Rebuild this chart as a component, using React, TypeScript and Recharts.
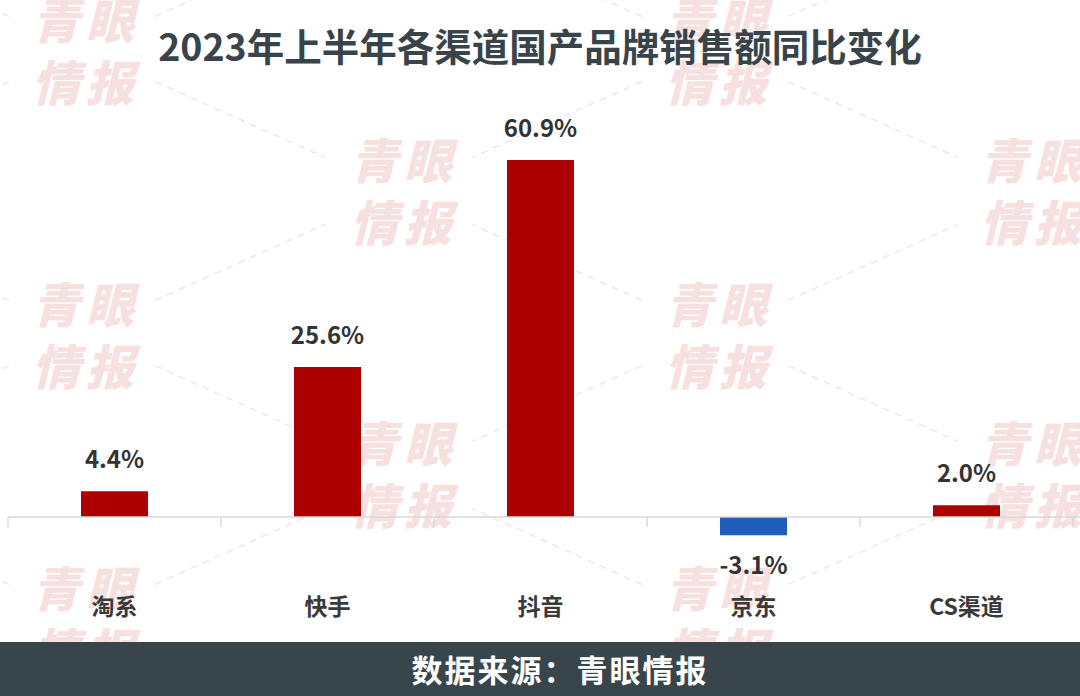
import React from "react";
import { BarChart, Bar, XAxis, YAxis, Cell, LabelList, ReferenceLine } from "recharts";

const categories = ["淘系", "快手", "抖音", "京东", "CS渠道"];
const growth = [4.4, 25.6, 60.9, -3.1, 2.0];
const valueLabels = ["4.4%", "25.6%", "60.9%", "-3.1%", "2.0%"];

const TITLE = "2023年上半年各渠道国产品牌销售额同比变化";
const SOURCE = "数据来源：青眼情报";
const WATERMARK = ["青眼", "情报"];

const data = categories.map((name, i) => ({ name, value: growth[i], label: valueLabels[i] }));

const FONT = '"Noto Sans CJK SC", "Noto Sans", sans-serif';
const RED = "#AD0000";
const BLUE = "#1F5DBA";

// decorative watermark lattice
const wmA = [
  [32, -3], [32, 281], [32, 565],
  [665, -3], [665, 281], [665, 565],
];
const wmB = [
  [350, 137], [350, 420],
  [980, 137], [980, 420],
  [-283, 137], [-283, 420],
];

const Watermarks = () => {
  const all = [...wmA, ...wmB];
  const lines: any[] = [];
  wmA.forEach(([x, y]) => {
    const cx = x + 50, cy = y + 52;
    [[316, 141], [316, -141], [-316, 141], [-316, -141]].forEach(([dx, dy]) => {
      const len = Math.sqrt(dx * dx + dy * dy);
      const ux = dx / len, uy = dy / len;
      const m = 80;
      lines.push([cx + ux * m, cy + uy * m, cx + dx - ux * m, cy + dy - uy * m]);
    });
  });
  return (
    <svg width={1080} height={696} style={{ position: "absolute", left: 0, top: 0 }}>
      {lines.map((l, i) => (
        <line key={"l" + i} x1={l[0]} y1={l[1]} x2={l[2]} y2={l[3]} stroke="#e9e9e9" strokeWidth={1.5} strokeDasharray="7 6" />
      ))}
      {all.map(([x, y], i) => (
        <g key={"w" + i} fill="#f7e0e0" fontFamily={FONT} fontWeight={900} fontStyle="italic" fontSize={48}>
          <text x={x} y={y + 42} letterSpacing={6}>{WATERMARK[0]}</text>
          <text x={x} y={y + 104} letterSpacing={6}>{WATERMARK[1]}</text>
        </g>
      ))}
    </svg>
  );
};

const ZeroAxis = (p: any) => {
  const { x1, y1, x2 } = p;
  const n = categories.length;
  const step = (x2 - x1) / n;
  const ticks = Array.from({ length: n + 1 }, (_, i) => x1 + i * step);
  return (
    <g>
      <line x1={x1} y1={y1} x2={1080} y2={y1} stroke="#d9d9d9" strokeWidth={1.5} />
      {ticks.map((t, i) => (
        <line key={i} x1={t} y1={y1} x2={t} y2={y1 + 10} stroke="#d9d9d9" strokeWidth={1.5} />
      ))}
    </g>
  );
};

const ValueLabel = (props: any) => {
  const vb = props.viewBox || props;
  const x = vb.x, y = vb.y, w = vb.width, h = vb.height;
  const idx = props.index;
  const v = growth[idx];
  const top = Math.min(y, y + h);
  const bottom = Math.max(y, y + h);
  const cx = x + w / 2;
  const ty = v >= 0 ? top - 23 : bottom + 39;
  return (
    <text x={cx} y={ty} textAnchor="middle" fill="#333333" fontFamily={FONT} fontWeight={700} fontSize={24}>
      {valueLabels[idx]}
    </text>
  );
};

const CatTick = (props: any) => {
  const { x, y, payload } = props;
  return (
    <text x={x} y={y + 22} textAnchor="middle" fill="#3a3a3a" fontFamily={FONT} fontWeight={700} fontSize={23}>
      {payload.value}
    </text>
  );
};

export default function App() {
  return (
    <div style={{ position: "absolute", left: 0, top: 0, width: 1080, height: 696, background: "#ffffff", overflow: "hidden" }}>
      <Watermarks />
      <div style={{ position: "absolute", left: 0, top: 0 }}>
        <BarChart
          width={1080}
          height={696}
          data={data}
          margin={{ top: 106.7, right: 7, left: 8, bottom: 72.8 }}
        >
          <XAxis dataKey="name" axisLine={false} tickLine={false} tickSize={0} tickMargin={0} height={30} tick={<CatTick />} interval={0} />
          <YAxis hide type="number" domain={[-13, 70]} />
          <ReferenceLine y={0} shape={<ZeroAxis />} ifOverflow="visible" />
          <Bar dataKey="value" barSize={67} isAnimationActive={false}>
            {data.map((d, i) => (
              <Cell key={i} fill={d.value < 0 ? BLUE : RED} />
            ))}
            <LabelList dataKey="value" content={<ValueLabel />} />
          </Bar>
        </BarChart>
      </div>
      <div
        style={{
          position: "absolute", left: 0, top: 21, width: 1080, textAlign: "center",
          fontFamily: FONT, fontWeight: 700, fontSize: 37.5, lineHeight: "48px", color: "#39444a",
        }}
      >
        {TITLE}
      </div>
      <div
        style={{
          position: "absolute", left: 0, top: 642, width: 1080, height: 54, background: "#38454b",
        }}
      >
        <div
          style={{
            position: "absolute", left: 20, width: 1080, top: 0, height: 54, lineHeight: "54px", textAlign: "center",
            fontFamily: FONT, fontWeight: 700, fontSize: 31, letterSpacing: 2, color: "#ffffff",
          }}
        >
          {SOURCE}
        </div>
      </div>
    </div>
  );
}
